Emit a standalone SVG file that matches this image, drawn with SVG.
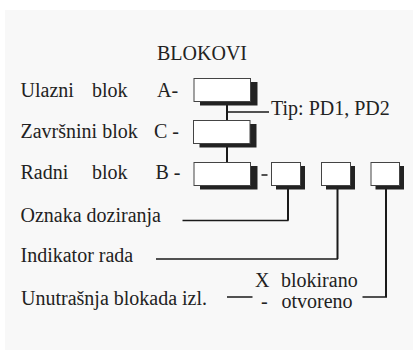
<svg xmlns="http://www.w3.org/2000/svg" width="413" height="351" viewBox="0 0 413 351">
<style>
.box{fill:#fff;stroke:#444;stroke-width:1}
.sh{fill:#222}
.v{stroke:#1a1a1a;stroke-width:2;fill:none}
.h{stroke:#1a1a1a;stroke-width:1.5;fill:none}
</style>
<rect x="0" y="0" width="413" height="351" fill="#fff"/>
<rect x="5" y="10" width="408" height="340" fill="#f8f8f8"/>
<g font-family="Liberation Serif, Times New Roman, serif" font-size="20" fill="#222">
<text x="157" y="60">BLOKOVI</text>
<g id="labels">
<text x="20.5" y="97">Ulazni</text>
<text x="92" y="97">blok</text>
<text x="157" y="97">A-</text>
<text x="20.5" y="138">Završnini blok</text>
<text x="154" y="138">C -</text>
<text x="20.5" y="179">Radni</text>
<text x="92" y="179">blok</text>
<text x="155.5" y="179">B -</text>
<text x="20.5" y="222">Oznaka doziranja</text>
<text x="20.5" y="262">Indikator rada</text>
<text x="21" y="305">Unutrašnja blokada izl.</text>
<text x="271" y="115">Tip: PD1, PD2</text>
<text x="255" y="287">X</text>
<text x="281" y="287">blokirano</text>
<text x="261" y="308">-</text>
<text x="281.5" y="308">otvoreno</text>
</g>
</g>
<g id="connectors">
<path class="v" d="M227 105V121"/>
<path class="h" d="M227 112H269"/>
<path class="v" d="M227 147V163"/>
<path class="h" d="M261.5 175H267.5"/>
<path class="v" d="M288 189V220.5"/>
<path class="h" d="M182.5 220.5H288.5"/>
<path class="v" d="M337.5 189V259"/>
<path class="h" d="M156 259H338"/>
<path class="v" d="M386 189V297"/>
<path class="h" d="M362.5 297H387"/>
<path class="h" d="M227 297H252.5"/>
</g>
<g id="blockA"><rect class="sh" x="200" y="82" width="57.5" height="23.5"/><rect class="box" x="194" y="78.5" width="56.5" height="23"/></g>
<g id="blockC"><rect class="sh" x="199.5" y="124" width="57" height="23.5"/><rect class="box" x="193.5" y="120.5" width="56.5" height="23"/></g>
<g id="blockB"><rect class="sh" x="200" y="166" width="57.5" height="23.5"/><rect class="box" x="194" y="162.5" width="56.5" height="23"/></g>
<g id="box1"><rect class="sh" x="276" y="166" width="29" height="23.5"/><rect class="box" x="271.5" y="162.5" width="29" height="23"/></g>
<g id="box2"><rect class="sh" x="326" y="166" width="29" height="23.5"/><rect class="box" x="321.5" y="162.5" width="29" height="23"/></g>
<g id="box3"><rect class="sh" x="375.5" y="166" width="28.5" height="23.5"/><rect class="box" x="371" y="162.5" width="28.5" height="23"/></g>
</svg>
